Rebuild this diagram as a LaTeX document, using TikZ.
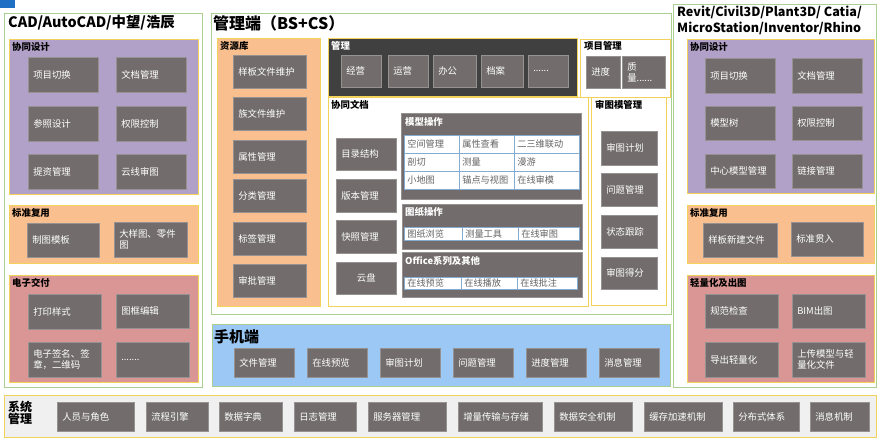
\documentclass[tikz,border=0pt]{standalone}
\usepackage{fontspec}
\setmainfont{Noto Sans CJK SC}
\definecolor{topBlue}{RGB}{31,112,196}
\definecolor{panelGreen}{RGB}{169,208,142}
\definecolor{edgeYellow}{RGB}{242,210,90}
\definecolor{groupPurple}{RGB}{177,160,199}
\definecolor{groupOrange}{RGB}{250,191,143}
\definecolor{groupRed}{RGB}{218,150,148}
\definecolor{groupBlue}{RGB}{155,200,245}
\definecolor{groupDark}{RGB}{64,64,64}
\definecolor{sysGray}{RGB}{240,240,240}
\definecolor{itemGray}{RGB}{114,108,108}
\definecolor{itemEdge}{RGB}{150,146,146}
\definecolor{cellBlue}{RGB}{132,172,210}
\definecolor{cellText}{RGB}{100,100,100}
\usepackage{tikz}

\begin{document}
\begin{tikzpicture}[x=1pt,y=-1pt,
                panel/.style={draw=panelGreen,line width=0.8pt,fill=white,anchor=north west,inner sep=0pt},
                group/.style={draw=edgeYellow,line width=0.8pt,anchor=north west,inner sep=0pt},
                item/.style={fill=itemGray,draw=itemEdge,line width=0.5pt,text=white,font=\fontsize{9.4}{10.8}\selectfont,
                            align=left,inner xsep=5pt,inner ysep=1pt,anchor=north west},
                cadItem/.style={item,text width=60pt,minimum height=35pt},
                resItem/.style={item,text width=63pt,minimum height=33pt},
                docItem/.style={item,text width=50pt,minimum height=32pt},
                revItem/.style={item,text width=46pt,minimum height=33pt},
                mobItem/.style={item,text width=50pt,minimum height=29pt},
                sysItem/.style={item,minimum height=29pt},
                cell/.style={fill=white,draw=cellBlue,line width=0.6pt,text=cellText,font=\fontsize{9.2}{10}\selectfont,
                            align=left,inner xsep=3pt,inner ysep=0pt,anchor=north west},
                head/.style={font=\fontsize{16}{18}\selectfont\bfseries,anchor=west,inner sep=0pt},
                tag/.style={font=\fontsize{9.4}{10}\selectfont\bfseries,anchor=west,inner sep=0pt}
            ]
                \useasboundingbox (0,0) rectangle (884,444);
                \node[fill=topBlue,anchor=north west,inner sep=0pt,minimum width=15pt,minimum height=8pt] (mark) at (0,0) {};

                % CAD side
                \node[panel,minimum width=198pt,minimum height=374pt] (cad) at (4,13) {};
                \node[head,font=\fontsize{14.4}{16}\selectfont\bfseries] (cadTitle) at (8,23) {CAD/AutoCAD/中望/浩辰};

                \node[group,fill=groupPurple,minimum width=189pt,minimum height=155pt] (cadCoop) at (9,39) {};
                \node[tag] (cadCoopTag) at (12,47) {协同设计};
                \node[cadItem] (cadSwitch) at (28,57) {项目切换};
                \node[cadItem] (cadDoc) at (116,57) {文档管理};
                \node[cadItem] (cadRef) at (28,106) {参照设计};
                \node[cadItem] (cadRight) at (116,106) {权限控制};
                \node[cadItem] (cadRes) at (28,154) {提资管理};
                \node[cadItem] (cadCloud) at (116,154) {云线审图};

                \node[group,fill=groupOrange,minimum width=189pt,minimum height=58pt] (cadReuse) at (9,205) {};
                \node[tag] (cadReuseTag) at (12,213) {标准复用};
                \node[cadItem,text width=62pt,minimum height=34pt] (cadTpl) at (27,223) {制图模板};
                \node[cadItem,text width=63pt] (cadDetail) at (114,222) {大样图、零件\\图};

                \node[group,fill=groupRed,minimum width=189pt,minimum height=107pt] (cadDeliver) at (9,275) {};
                \node[tag] (cadDeliverTag) at (12,283) {电子交付};
                \node[cadItem,text width=63pt] (cadPrint) at (28,294) {打印样式};
                \node[cadItem,text width=63pt,minimum height=34pt] (cadFrame) at (116,294) {图框编辑};
                \node[cadItem,text width=63pt] (cadSign) at (28,342) {电子签名、签\\章，二维码};
                \node[cadItem,text width=63pt] (cadMore) at (116,342) {.......};

                % management side
                \node[panel,minimum width=460pt,minimum height=301pt] (mgmt) at (211,13) {};
                \node[head] (mgmtTitle) at (213,23) {管理端（BS+CS）};

                \node[group,fill=groupOrange,minimum width=103pt,minimum height=268pt] (res) at (217,38) {};
                \node[tag] (resTag) at (220,46) {资源库};
                \node[resItem] (resTpl) at (233,55) {样板文件维护};
                \node[resItem] (resFamily) at (233,97) {族文件维护};
                \node[resItem] (resProp) at (233,140) {属性管理};
                \node[resItem] (resClass) at (233,179) {分类管理};
                \node[resItem] (resLabel) at (233,222) {标签管理};
                \node[resItem] (resAudit) at (233,264) {审批管理};

                \node[group,fill=groupDark,minimum width=249pt,minimum height=58pt] (admin) at (328,38) {};
                \node[tag,text=white] (adminTag) at (331,46) {管理};
                \node[item,text width=30pt,minimum height=32pt] (adminBiz) at (341,55) {经营};
                \node[item,text width=30pt,minimum height=32pt] (adminOps) at (388,55) {运营};
                \node[item,text width=33pt,minimum height=32pt] (adminOffice) at (433,55) {办公};
                \node[item,text width=32pt,minimum height=32pt] (adminArch) at (481,55) {档案};
                \node[item,text width=30pt,minimum height=32pt] (adminMore) at (528,55) {......};

                \node[group,fill=white,minimum width=90pt,minimum height=58pt] (proj) at (580,39) {};
                \node[tag] (projTag) at (584,46) {项目管理};
                \node[item,text width=24pt,minimum height=32pt] (projPlan) at (586,56) {进度};
                \node[item,text width=33pt,minimum height=32pt] (projQual) at (622,56) {质\\量......};

                \node[group,fill=white,minimum width=260pt,minimum height=209pt] (doc) at (328,97) {};
                \node[tag] (docTag) at (331,105) {协同文档};
                \node[docItem] (docTree) at (336,138) {目录结构};
                \node[docItem,minimum height=33pt] (docVer) at (336,179) {版本管理};
                \node[docItem,minimum height=33pt] (docSnap) at (336,220) {快照管理};
                \node[docItem,align=center] (docDisk) at (336,262) {云盘};

                \node[group,draw=itemEdge,fill=itemGray,minimum width=180pt,minimum height=86pt] (model) at (401,113) {};
                \node[tag,text=white] (modelTag) at (405,122) {模型操作};
                \node[cell,text width=49pt,minimum height=18pt] (mSpace) at (404,135) {空间管理};
                \node[cell,text width=49pt,minimum height=18pt] (mProp) at (459,135) {属性查看};
                \node[cell,text width=59pt,minimum height=18pt] (mLink) at (514,135) {二三维联动};
                \node[cell,text width=49pt,minimum height=18pt] (mCut) at (404,153) {剖切};
                \node[cell,text width=49pt,minimum height=18pt] (mMeas) at (459,153) {测量};
                \node[cell,text width=59pt,minimum height=18pt] (mWalk) at (514,153) {漫游};
                \node[cell,text width=49pt,minimum height=18pt] (mMap) at (404,171) {小地图};
                \node[cell,text width=49pt,minimum height=18pt] (mView) at (459,171) {锚点与视图};
                \node[cell,text width=59pt,minimum height=18pt] (mCheck) at (514,171) {在线审模};

                \node[group,draw=itemEdge,fill=itemGray,minimum width=180pt,minimum height=45pt] (sheet) at (402,204) {};
                \node[tag,text=white] (sheetTag) at (405,212) {图纸操作};
                \node[cell,text width=52pt,minimum height=13pt] (sBrowse) at (404,227) {图纸浏览};
                \node[cell,text width=50pt,minimum height=13pt] (sTool) at (462,227) {测量工具};
                \node[cell,text width=55pt,minimum height=13pt] (sCheck) at (518,227) {在线审图};

                \node[group,draw=itemEdge,fill=itemGray,minimum width=180pt,minimum height=45pt] (office) at (402,252) {};
                \node[tag,text=white] (officeTag) at (405,261) {Office系列及其他};
                \node[cell,text width=51pt,minimum height=12pt] (oView) at (404,277) {在线预览};
                \node[cell,text width=50pt,minimum height=12pt] (oPlay) at (461,277) {在线播放};
                \node[cell,text width=54pt,minimum height=12pt] (oNote) at (517,277) {在线批注};

                \node[group,fill=white,minimum width=75pt,minimum height=208pt] (review) at (591,97) {};
                \node[tag] (reviewTag) at (595,105) {审图模管理};
                \node[revItem,minimum height=34pt] (revPlan) at (601,131) {审图计划};
                \node[revItem] (revIssue) at (601,173) {问题管理};
                \node[revItem] (revTrack) at (601,215) {状态跟踪};
                \node[revItem,minimum height=32pt] (revScore) at (601,257) {审图得分};

                % mobile
                \node[panel,fill=groupBlue,minimum width=458pt,minimum height=62pt] (mobile) at (212,324) {};
                \node[head,font=\fontsize{15}{17}\selectfont\bfseries] (mobileTitle) at (214,337) {手机端};
                \node[mobItem] (mobFile) at (234,348) {文件管理};
                \node[mobItem] (mobView) at (307,348) {在线预览};
                \node[mobItem] (mobPlan) at (380,348) {审图计划};
                \node[mobItem] (mobIssue) at (453,348) {问题管理};
                \node[mobItem] (mobSched) at (526,348) {进度管理};
                \node[mobItem] (mobMsg) at (599,348) {消息管理};

                % BIM side
                \node[panel,minimum width=203pt,minimum height=383pt] (rvt) at (673,4) {};
                \node[head,font=\fontsize{12.6}{15.2}\selectfont\bfseries,align=left] (rvtTitle) at (677,20.5)
                    {Revit/Civil3D/Plant3D/ Catia/\\MicroStation/Inventor/Rhino};

                \node[group,fill=groupPurple,minimum width=187pt,minimum height=154pt] (rvtCoop) at (687,39) {};
                \node[tag] (rvtCoopTag) at (690,47) {协同设计};
                \node[cadItem] (rvtSwitch) at (705,58) {项目切换};
                \node[cadItem] (rvtDoc) at (792,58) {文档管理};
                \node[cadItem,minimum height=34pt] (rvtTree) at (705,106) {模型树};
                \node[cadItem,minimum height=34pt] (rvtRight) at (792,106) {权限控制};
                \node[cadItem,minimum height=34pt] (rvtCentral) at (705,154) {中心模型管理};
                \node[cadItem,minimum height=34pt] (rvtLink) at (792,154) {链接管理};

                \node[group,fill=groupOrange,minimum width=187pt,minimum height=58pt] (rvtReuse) at (687,205) {};
                \node[tag] (rvtReuseTag) at (690,213) {标准复用};
                \node[cadItem,text width=64pt,minimum height=34pt] (rvtTpl) at (703,223) {样板新建文件};
                \node[cadItem,text width=62pt,minimum height=34pt] (rvtStd) at (791,222) {标准贯入};

                \node[group,fill=groupRed,minimum width=187pt,minimum height=107pt] (rvtLight) at (687,275) {};
                \node[tag] (rvtLightTag) at (690,283) {轻量化及出图};
                \node[cadItem,text width=63pt,minimum height=34pt] (rvtCheck) at (705,294) {规范检查};
                \node[cadItem,text width=63pt,minimum height=34pt] (rvtDraw) at (792,294) {BIM出图};
                \node[cadItem,text width=63pt] (rvtExport) at (705,342) {导出轻量化};
                \node[cadItem,text width=63pt] (rvtUpload) at (792,342) {上传模型与轻\\量化文件};

                % system
                \node[group,fill=sysGray,minimum width=872pt,minimum height=42pt] (sys) at (4,395) {};
                \node[tag,font=\fontsize{12}{12.5}\selectfont\bfseries,align=left] (sysTag) at (8,413) {系统\\管理};
                \node[sysItem,text width=67pt] (sysRole) at (57,402) {人员与角色};
                \node[sysItem,text width=52pt] (sysFlow) at (146,402) {流程引擎};
                \node[sysItem,text width=53pt] (sysDict) at (219,402) {数据字典};
                \node[sysItem,text width=52pt] (sysLog) at (294,402) {日志管理};
                \node[sysItem,text width=68pt] (sysServer) at (368,402) {服务器管理};
                \node[sysItem,text width=74pt] (sysSync) at (458,402) {增量传输与存储};
                \node[sysItem,text width=68pt] (sysSafe) at (554,402) {数据安全机制};
                \node[sysItem,text width=68pt] (sysCache) at (644,402) {缓存加速机制};
                \node[sysItem,text width=56pt] (sysDist) at (733,402) {分布式体系};
                \node[sysItem,text width=49pt] (sysMsg) at (810,402) {消息机制};
            \end{tikzpicture}
\end{document}
